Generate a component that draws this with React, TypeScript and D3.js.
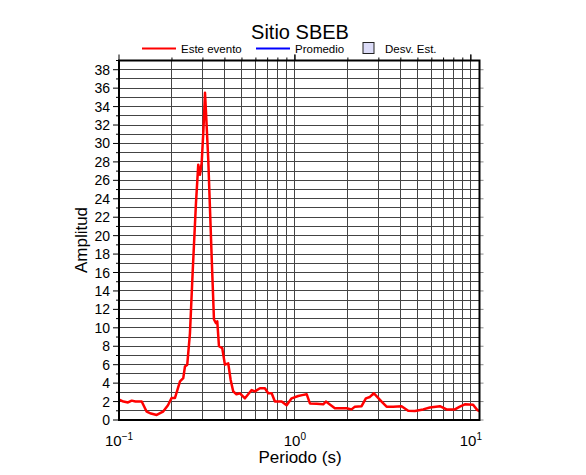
import React from "react";
import * as d3 from "d3";

// Este evento: periodo (s) y amplitud
const periods = [
  0.1, 0.101, 0.106, 0.1125, 0.1181, 0.124, 0.1346, 0.1437, 0.152, 0.1638, 0.1778, 0.1898,
  0.1992, 0.2081, 0.2222, 0.2319, 0.2371, 0.2443, 0.2531, 0.2622, 0.2738, 0.2822, 0.2885,
  0.2951, 0.302, 0.3082, 0.3121, 0.3217, 0.3363, 0.3466, 0.3558, 0.3619, 0.3701, 0.3863,
  0.4, 0.4178, 0.4312, 0.4461, 0.465, 0.487, 0.5199, 0.5675, 0.5925, 0.6326, 0.6753,
  0.7049, 0.7375, 0.7696, 0.84, 0.897, 0.958, 1.044, 1.1, 1.166, 1.217, 1.328, 1.448,
  1.5, 1.687, 1.967, 2.099, 2.193, 2.393, 2.531, 2.668, 2.811, 2.935, 3.11, 3.319,
  3.619, 4.038, 4.403, 4.806, 5.357, 5.848, 6.667, 7.278, 8.111, 8.66, 9.245, 10.3,
  10.86, 11.2,
];
const amplitudes = [
  2.15, 2.17, 2.0, 1.9, 2.1, 2.0, 2.0, 0.9, 0.7, 0.55, 0.9, 1.6,
  2.4, 2.4, 4.2, 4.55, 5.8, 6.0, 9.4, 16.0, 23.5, 27.7, 26.6,
  27.9, 31.5, 35.5, 33.5, 28.2, 17.7, 10.9, 10.5, 10.7, 8.0, 7.8,
  6.0, 6.15, 4.35, 3.1, 2.8, 2.9, 2.35, 3.25, 3.1, 3.45, 3.45,
  2.9, 2.9, 2.0, 2.0, 1.6, 2.35, 2.6, 2.7, 2.8, 1.8, 1.75, 1.7,
  2.0, 1.27, 1.27, 1.15, 1.45, 1.5, 2.35, 2.5, 2.9, 2.5, 2.0, 1.45,
  1.45, 1.5, 1.0, 0.98, 1.15, 1.35, 1.5, 1.15, 1.15, 1.45, 1.7, 1.65,
  1.1, 0.95,
];

const xDomain = [0.1, 11.2];
const yDomain = [0, 39];
const yTickLabels = d3.range(0, 39, 2);
const xTickPowers = [-1, 0, 1];

const W = 586;
const H = 475;
const m = { left: 119, right: 106.5, top: 60.5, bottom: 55 };

export default function App() {
  const x = d3.scaleLog().domain(xDomain).range([m.left, W - m.right]);
  const y = d3.scaleLinear().domain(yDomain).range([H - m.bottom, m.top]);

  const xGrid: number[] = [];
  for (const p of [0.1, 1, 10]) {
    for (let k = 1; k < 10; k++) {
      const v = p * k;
      if (v > xDomain[0] && v < xDomain[1]) xGrid.push(v);
    }
  }
  const yGrid = d3.range(1, 39);

  const line = d3
    .line<number>()
    .x((_, i) => x(periods[i]))
    .y((d) => y(d))
    .curve(d3.curveLinear);

  const font = "'Liberation Sans', Arial, Helvetica, sans-serif";
  const [x0, x1] = x.range();
  const [y0, y1] = y.range();

  return (
    <svg
      width={W}
      height={H}
      style={{ position: "absolute", left: 0, top: 0 }}
      fontFamily={font}
    >
      <rect width={W} height={H} fill="#fff" />
      <text x={300} y={38.5} textAnchor="middle" fontSize={20}>
        Sitio SBEB
      </text>

      {/* legend */}
      <line x1={142} x2={176} y1={48.5} y2={48.5} stroke="#ff0000" strokeWidth={2} />
      <text x={181} y={53} fontSize={11.5}>Este evento</text>
      <line x1={256} x2={290} y1={48.5} y2={48.5} stroke="#0000ff" strokeWidth={2} />
      <text x={295} y={53} fontSize={11.5}>Promedio</text>
      <rect x={363} y={42.5} width={11} height={11} fill="#dcdcf8" stroke="#222" strokeWidth={1} />
      <text x={385} y={53} fontSize={11.5}>Desv. Est.</text>

      {/* grid */}
      <g stroke="#444" strokeWidth={1} shapeRendering="crispEdges">
        {xGrid.map((v) => (
          <line key={"gx" + v} x1={x(v)} x2={x(v)} y1={y1} y2={y0} />
        ))}
        {yGrid.map((v) => (
          <line key={"gy" + v} x1={x0} x2={x1} y1={y(v)} y2={y(v)} />
        ))}
      </g>

      {/* series */}
      <path
        d={line(amplitudes) || ""}
        fill="none"
        stroke="#ff0000"
        strokeWidth={2.5}
        strokeLinejoin="round"
      />

      {/* ticks */}
      <g stroke="#000" strokeWidth={1}>
        {d3.range(0, 40).map((v) => (
          <line key={"ly" + v} x1={x0 - (v % 2 === 0 ? 6 : 3)} x2={x0} y1={y(v)} y2={y(v)} />
        ))}
        {d3.range(0, 40, 2).map((v) => (
          <line key={"ry" + v} x1={x1} x2={x1 + 4} y1={y(v)} y2={y(v)} stroke="#888" />
        ))}
        {xGrid.concat([0.1, 1, 10]).map((v) => {
          const major = [0.1, 1, 10].includes(v);
          return (
            <line key={"tx" + v} x1={x(v)} x2={x(v)} y1={y1} y2={y1 - (major ? 6 : 3)} />
          );
        })}
      </g>

      {/* frame */}
      <rect
        x={x0}
        y={y1}
        width={x1 - x0}
        height={y0 - y1}
        fill="none"
        stroke="#000"
        strokeWidth={2}
      />

      {/* y tick labels */}
      {yTickLabels.map((v) => (
        <text key={"yl" + v} x={x0 - 9} y={y(v) + 5} textAnchor="end" fontSize={14}>
          {v}
        </text>
      ))}

      {/* x tick labels */}
      {xTickPowers.map((p) => (
        <text key={"xl" + p} x={x(Math.pow(10, p))} y={446} textAnchor="middle" fontSize={15}>
          10
          <tspan dy={-6} fontSize={10}>
            {p < 0 ? "\u2212" + Math.abs(p) : String(p)}
          </tspan>
        </text>
      ))}

      <text x={300} y={463} textAnchor="middle" fontSize={17}>
        Periodo (s)
      </text>
      <text
        transform={`translate(87,240) rotate(-90)`}
        textAnchor="middle"
        fontSize={17}
      >
        Amplitud
      </text>
    </svg>
  );
}
